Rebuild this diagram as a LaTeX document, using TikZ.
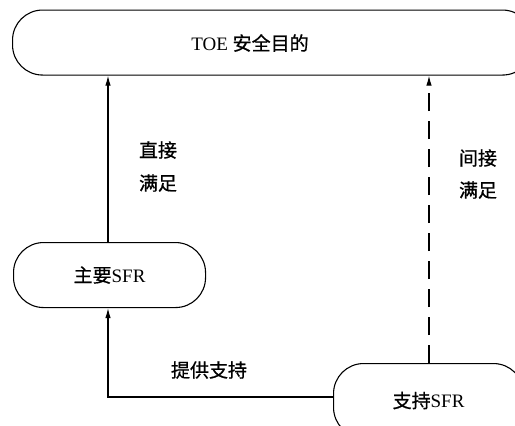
\documentclass[tikz,border=0pt]{standalone}
\usepackage{fontspec}
\setmainfont{Liberation Serif}
\newfontfamily\cjk[FakeBold=0.8]{Noto Sans CJK SC}
\usetikzlibrary{arrows.meta}
\begin{document}
\begin{tikzpicture}[x=1pt,y=-1pt,
  box/.style={draw,line width=1.1pt,rounded corners=30pt},
  lbl/.style={font=\fontsize{19}{22}\selectfont,inner sep=0pt},
  link/.style={line width=1.1pt,-{Latex[length=10pt,width=5.5pt]}},
  dlink/.style={link,dash pattern=on 18pt off 10pt}]
\useasboundingbox (0,0) rectangle (515,426);
\clip (0,0) rectangle (515,426);
\fill[white] (0,0) rectangle (515,426);
% boxes
\node[box,minimum width=520pt,minimum height=65pt,anchor=north west] (goal) at (12,9.5) {};
\node[lbl] (goaltext) at (250,43) {TOE {\cjk 安全目的}};
\node[box,minimum width=192pt,minimum height=65pt,anchor=north west,lbl,inner sep=0pt,draw,line width=1.1pt] (main) at (13,242) {{\cjk 主要}SFR};
\node[box,minimum width=190pt,minimum height=74pt,anchor=north west,lbl,inner sep=0pt,draw,line width=1.1pt] (supp) at (333,363) {{\cjk 支持}SFR};
% connectors
\draw[link] (main.north -| 108,0) coordinate (m1) -- (m1 |- goal.south);
\draw[dlink] (supp.north -| 429,0) coordinate (s1) -- (s1 |- goal.south);
\coordinate (bend) at (108,397);
\draw[link] (supp.west |- bend) -- (bend) -- (bend |- main.south);
% labels
\node[lbl] (l1) at (158,150) {\cjk 直接};
\node[lbl] (l2) at (158,183) {\cjk 满足};
\node[lbl] (l3) at (478,158) {\cjk 间接};
\node[lbl] (l4) at (478,190) {\cjk 满足};
\node[lbl] (l5) at (209,370) {\cjk 提供支持};
\end{tikzpicture}
\end{document}
